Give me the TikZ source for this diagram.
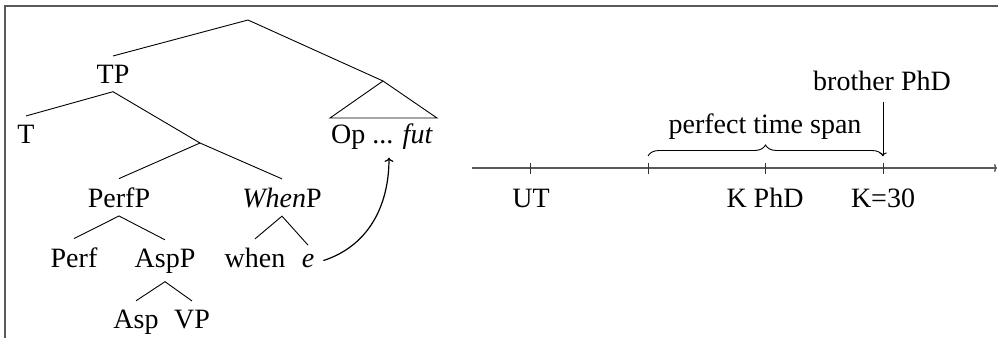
\documentclass[tikz,border=0pt]{standalone}
\usepackage{fontspec}
\setmainfont{Liberation Serif}
\usetikzlibrary{decorations.pathreplacing,arrows.meta,calc}
\begin{document}
\begin{tikzpicture}[x=1pt,y=-1pt,
  lab/.style={font=\fontsize{28}{34}\selectfont, inner xsep=2pt, inner ysep=8.5pt, anchor=base},
  br/.style={line width=0.9pt, black},
  axisline/.style={line width=1.4pt, black!65},
  frameline/.style={line width=1.8pt, black!65},
  tick/.style={line width=1pt, black!80}]
\useasboundingbox (0,0) rectangle (998,338);
\draw[frameline] (5,338) -- (5,6) -- (998,6);

% tree
\coordinate (root) at (248,20);
\coordinate (x) at (200,143);
\coordinate (tri) at (383,81);
\coordinate (triL) at (330,118);
\coordinate (triR) at (437,118);
\node[lab] (TP) at (113,83) {TP};
\node[lab] (T) at (26,143) {T};
\node[lab] (PerfP) at (119,207) {PerfP};
\node[lab] (WhenP) at (282,207) {\textit{When}P};
\node[lab] (Perf) at (74,267) {Perf};
\node[lab] (AspP) at (165,267) {AspP};
\node[lab] (when) at (255,267) {when};
\node[lab, inner xsep=9pt] (e) at (308,267) {\textit{e}};
\node[lab] (Asp) at (136,328) {Asp};
\node[lab] (VP) at (192,328) {VP};
\node[lab] (op) at (382,143) {Op ... \textit{fut}};

\draw[br] (TP.north) -- (root) -- (tri);
\draw[br] (tri) -- (triL) -- (triR) -- cycle;
\draw[br] (T.north) -- (TP.south) -- (x);
\draw[br] (PerfP.north) -- (x) -- (WhenP.north);
\draw[br] (Perf.north) -- (PerfP.south) -- (AspP.north);
\draw[br] (Asp.north) -- (AspP.south) -- (VP.north);
\draw[br] (when.north) -- (WhenP.south) -- (e.north);
\draw[line width=1.2pt, ->] (e.east) to[out=18,in=-90] ($(op.south)+(7,0)$);

% timeline
\coordinate (a0) at (472,168);
\coordinate (a1) at (997,168);
\draw[axisline, -{To[length=3pt,width=8pt]}] (a0) -- (a1);
\foreach \n/\x in {t1/530,t2/648,t3/765,t4/883}{
  \coordinate (\n) at (\x,168);
  \draw[tick] (\x,163) -- (\x,174);
}
\node[lab] (UT) at (531,207) {UT};
\node[lab] (KPhD) at (765,207) {K PhD};
\node[lab] (K30) at (883,207) {K=30};
\coordinate (bL) at (648,156);
\coordinate (bR) at (883,156);
\draw[line width=0.9pt, decorate, decoration={brace, amplitude=11pt}] (bL) -- (bR);
\node[lab] (pts) at (765,133) {perfect time span};
\node[lab, inner ysep=12pt] (bro) at (882,90) {brother PhD};
\draw[line width=0.9pt, ->] (bro.south -| bR) -- (bR);
\end{tikzpicture}
\end{document}
